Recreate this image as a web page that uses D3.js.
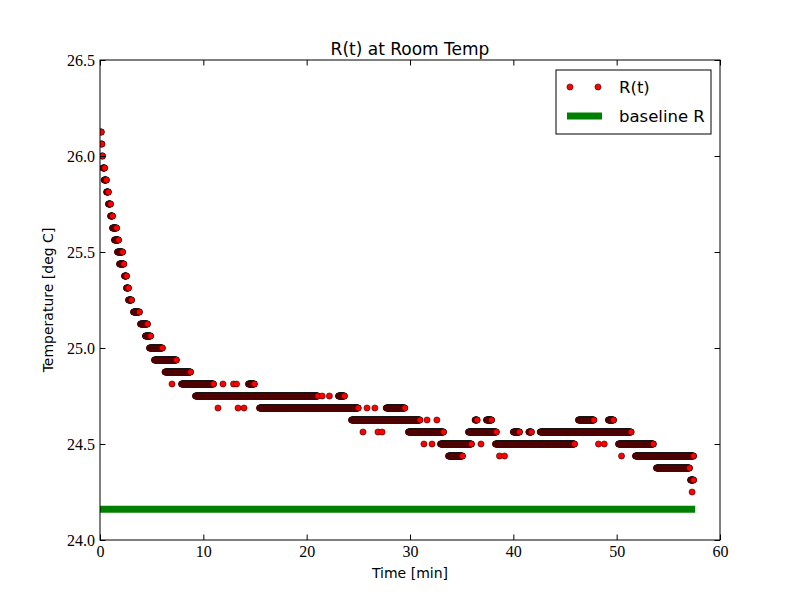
<!DOCTYPE html>
<html>
<head>
<meta charset="utf-8">
<script src="https://cdn.jsdelivr.net/npm/d3@7"></script>
<style>
  body { margin: 0; background: #fff; }
  svg { display: block; }
</style>
</head>
<body>
<svg id="chart"></svg>
<script>
// temperature readings, stored as runs of one sensor level (deg C) between two times (min)
const runTemp = [
  26.125, 26.0625, 26.0, 25.9375, 25.875, 25.8125, 25.75, 25.6875, 25.625, 25.5625,
  25.5, 25.4375, 25.375, 25.3125, 25.25, 25.1875, 25.125, 25.0625, 25.0, 24.9375, 24.875,
  24.8125, 24.8125, 24.8125, 24.8125, 24.8125, 24.8125,
  24.75, 24.75, 24.75, 24.75,
  24.6875, 24.6875, 24.6875, 24.6875, 24.6875, 24.6875, 24.6875,
  24.625, 24.625, 24.625, 24.625, 24.625, 24.625, 24.625,
  24.5625, 24.5625, 24.5625, 24.5625, 24.5625, 24.5625, 24.5625, 24.5625,
  24.5, 24.5, 24.5, 24.5, 24.5, 24.5, 24.5, 24.5,
  24.4375, 24.4375, 24.4375, 24.4375, 24.4375,
  24.375, 24.3125, 24.25
];
const runStart = [
  0.08, 0.14, 0.20, 0.28, 0.40, 0.64, 0.82, 1.02, 1.21, 1.40,
  1.69, 1.89, 2.37, 2.56, 2.76, 3.24, 3.92, 4.40, 4.79, 5.27, 6.29,
  6.97, 7.89, 11.90, 12.92, 13.21, 14.37,
  9.24, 21.50, 22.20, 23.08,
  11.42, 13.36, 13.94, 15.44, 25.84, 26.60, 27.70,
  24.34, 31.65, 32.60, 36.30, 37.40, 46.30, 49.20,
  25.45, 26.90, 27.30, 29.85, 35.66, 40.00, 41.50, 42.60,
  31.35, 32.13, 32.95, 36.87, 38.27, 48.24, 48.80, 50.18,
  33.73, 38.66, 39.15, 50.47, 51.82,
  53.85, 57.15, 57.30
];
const runEnd = [
  0.12, 0.18, 0.26, 0.46, 0.62, 0.82, 1.02, 1.22, 1.60, 1.79,
  2.18, 2.32, 2.56, 2.76, 3.05, 3.82, 4.60, 4.89, 6.05, 7.40, 8.76,
  6.97, 10.98, 11.90, 12.92, 13.21, 14.95,
  21.10, 21.50, 22.20, 23.66,
  11.42, 13.36, 13.94, 25.00, 25.84, 26.60, 29.50,
  30.97, 31.65, 32.60, 36.50, 37.90, 47.80, 49.70,
  25.45, 26.90, 27.30, 33.24, 38.37, 40.60, 41.75, 51.40,
  31.35, 32.13, 35.95, 36.87, 45.92, 48.24, 48.80, 53.56,
  35.08, 38.66, 39.15, 50.47, 57.44,
  57.05, 57.44, 57.30
];
const sampleStep = 1 / 40;   // logger interval, min

const baselineR = 24.16;
const baselineSpan = [0, 57.6];

const xTicks = [0, 10, 20, 30, 40, 50, 60];
const yTicks = [24.0, 24.5, 25.0, 25.5, 26.0, 26.5];

// sizes
const width = 800, height = 600;
const margin = { top: 60, right: 80, bottom: 60, left: 100 };
const plotW = width - margin.left - margin.right;
const plotH = height - margin.top - margin.bottom;

// expand the runs into the logged samples
let samples = [];
runTemp.forEach(function (v, i) {
  d3.range(runStart[i], runEnd[i] + sampleStep / 2, sampleStep).forEach(function (t) {
    samples.push({ t: t, v: v });
  });
});
samples.sort((a, b) => a.t - b.t);

let scaleX = d3.scaleLinear().domain([0, 60]).range([0, plotW]);
let scaleY = d3.scaleLinear().domain([24.0, 26.5]).range([plotH, 0]);

let svg = d3.select("#chart")
  .attr("width", width)
  .attr("height", height);

svg.append("rect").attr("width", width).attr("height", height).attr("fill", "#fff");

let g = svg.append("g")
  .attr("transform", "translate(" + margin.left + "," + margin.top + ")");

svg.append("defs").append("clipPath").attr("id", "clip")
  .append("rect").attr("width", plotW).attr("height", plotH);

// data
let plot = g.append("g").attr("clip-path", "url(#clip)");

plot.append("line")
  .attr("x1", scaleX(baselineSpan[0]))
  .attr("x2", scaleX(baselineSpan[1]))
  .attr("y1", scaleY(baselineR))
  .attr("y2", scaleY(baselineR))
  .attr("stroke", "#008000")
  .attr("stroke-width", 7);

plot.append("g")
  .selectAll("circle")
  .data(samples)
  .enter()
  .append("circle")
  .attr("cx", d => scaleX(d.t))
  .attr("cy", d => scaleY(d.v))
  .attr("r", 3.1)
  .attr("fill", "#ff0000")
  .attr("stroke", "#000")
  .attr("stroke-width", 0.5);

// axes, classic style: inward ticks on all four sides
const tickFont = "'Liberation Serif', 'DejaVu Serif', serif";
const tick = 5.5;

function styleAxis(sel) {
  sel.select(".domain").remove();
  sel.selectAll("line").attr("stroke", "#000").attr("stroke-width", 1);
  sel.selectAll("text").attr("fill", "#000").style("font-family", tickFont).style("font-size", "16px");
}

g.append("g")
  .attr("transform", "translate(0," + plotH + ")")
  .call(d3.axisBottom(scaleX).tickValues(xTicks).tickFormat(d3.format("d"))
    .tickSizeInner(-tick).tickSizeOuter(0).tickPadding(6))
  .call(styleAxis);

g.append("g")
  .call(d3.axisTop(scaleX).tickValues(xTicks).tickFormat("")
    .tickSizeInner(-tick).tickSizeOuter(0))
  .call(styleAxis);

g.append("g")
  .call(d3.axisLeft(scaleY).tickValues(yTicks).tickFormat(d3.format(".1f"))
    .tickSizeInner(-tick).tickSizeOuter(0).tickPadding(5))
  .call(styleAxis);

g.append("g")
  .attr("transform", "translate(" + plotW + ",0)")
  .call(d3.axisRight(scaleY).tickValues(yTicks).tickFormat("")
    .tickSizeInner(-tick).tickSizeOuter(0))
  .call(styleAxis);

// frame
g.append("rect")
  .attr("width", plotW)
  .attr("height", plotH)
  .attr("fill", "none")
  .attr("stroke", "#000")
  .attr("stroke-width", 1);

const labelFont = "'DejaVu Sans', sans-serif";

// title and axis labels
svg.append("text")
  .attr("x", margin.left + plotW / 2)
  .attr("y", 55)
  .attr("text-anchor", "middle")
  .style("font-family", labelFont)
  .style("font-size", "17px")
  .text("R(t) at Room Temp");

svg.append("text")
  .attr("x", margin.left + plotW / 2)
  .attr("y", 578)
  .attr("text-anchor", "middle")
  .style("font-family", labelFont)
  .style("font-size", "14px")
  .text("Time [min]");

svg.append("text")
  .attr("transform", "translate(53," + (margin.top + plotH / 2) + ") rotate(-90)")
  .attr("text-anchor", "middle")
  .style("font-family", labelFont)
  .style("font-size", "14px")
  .text("Temperature [deg C]");

// legend
let legend = svg.append("g").attr("transform", "translate(556,70)");

legend.append("rect")
  .attr("width", 155)
  .attr("height", 64)
  .attr("fill", "#fff")
  .attr("stroke", "#000")
  .attr("stroke-width", 1);

legend.selectAll("circle")
  .data([14, 42])
  .enter()
  .append("circle")
  .attr("cx", d => d)
  .attr("cy", 17)
  .attr("r", 3.1)
  .attr("fill", "#ff0000")
  .attr("stroke", "#000")
  .attr("stroke-width", 0.5);

legend.append("line")
  .attr("x1", 11).attr("x2", 46)
  .attr("y1", 46).attr("y2", 46)
  .attr("stroke", "#008000")
  .attr("stroke-width", 7);

legend.selectAll("text.entry")
  .data(["R(t)", "baseline R"])
  .enter()
  .append("text")
  .attr("class", "entry")
  .attr("x", 63)
  .attr("y", (d, i) => 17 + i * 29)
  .attr("dy", "0.36em")
  .style("font-family", labelFont)
  .style("font-size", "16.5px")
  .text(d => d);
</script>
</body>
</html>
